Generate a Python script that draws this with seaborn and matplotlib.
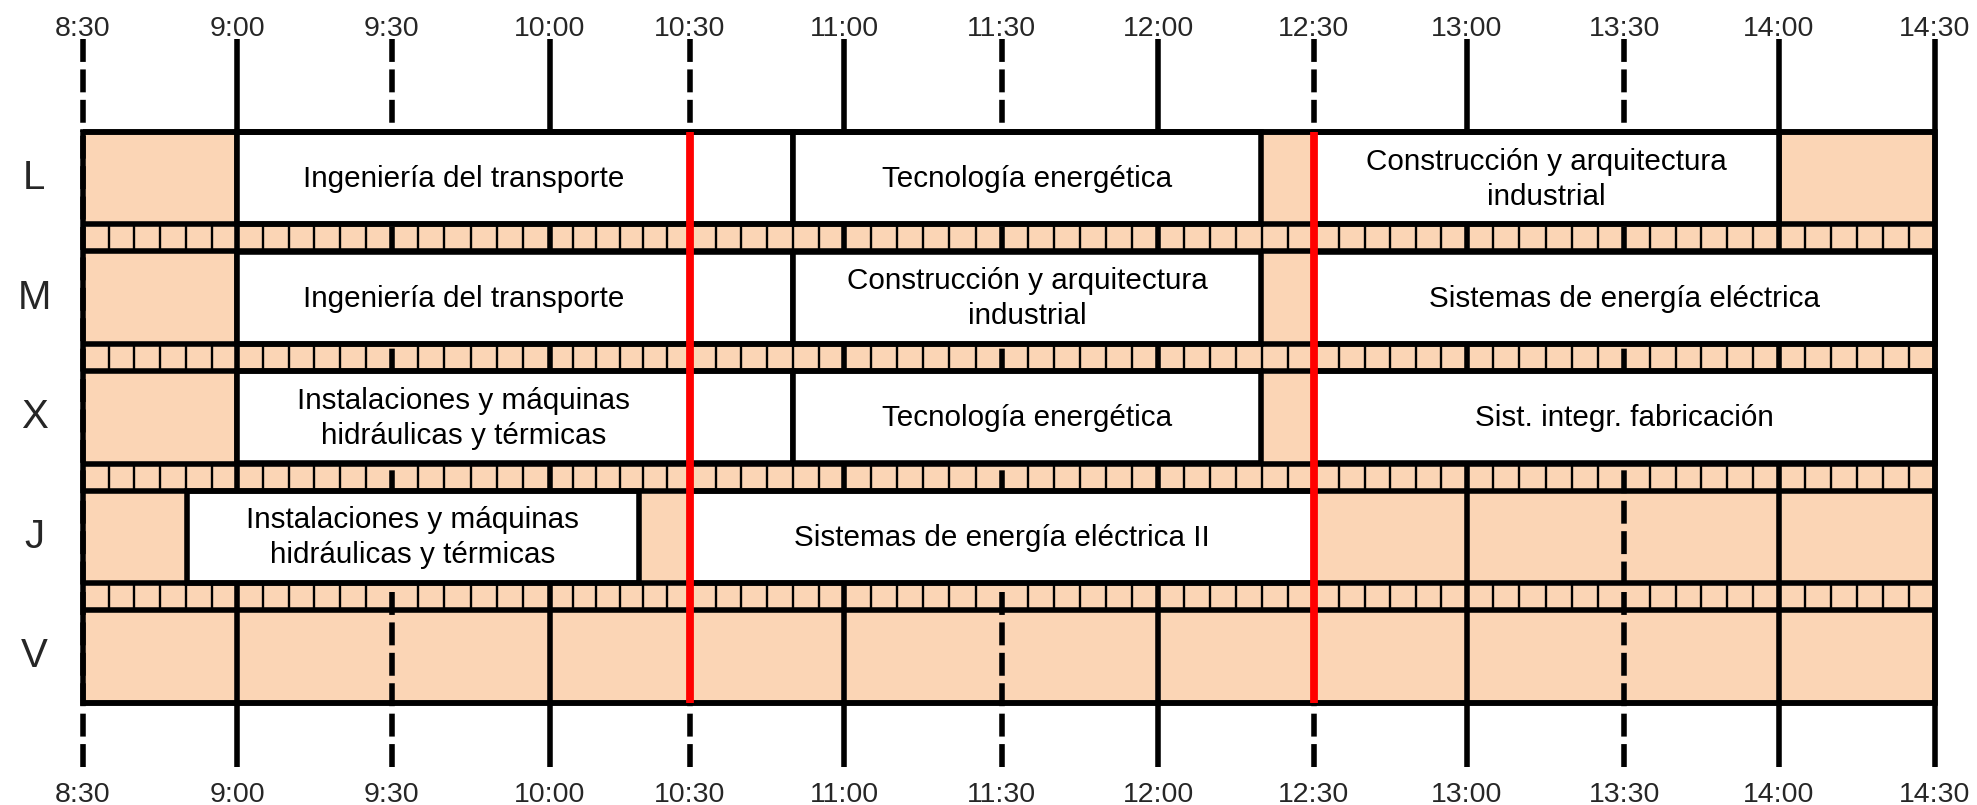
import matplotlib
matplotlib.use("Agg")
import matplotlib.pyplot as plt
import seaborn as sns
from matplotlib.patches import Rectangle

# ---------------- data ----------------
days = ["L", "M", "X", "J", "V"]
tick_labels = ["8:30", "9:00", "9:30", "10:00", "10:30", "11:00", "11:30",
               "12:00", "12:30", "13:00", "13:30", "14:00", "14:30"]
# minutes after 8:30, as drawn in the picture
tick_pos = [0, 30, 60, 90.7, 118, 148, 178.6, 209, 239.2, 269, 299.6, 329.6, 360]
red_marks = ["10:30", "12:30"]

# classes – start/end in minutes after 8:30
class_day = ["L", "L", "L", "M", "M", "M", "X", "X", "X", "J", "J"]
class_start = [30, 138, 239.2, 30, 138, 239.2, 30, 138, 239.2, 20.2, 118]
class_end = [138, 229, 329.6, 138, 229, 360, 138, 229, 360, 108, 239.2]
# horizontal centre of each class label (minutes after 8:30)
class_label_x = [74, 183.5, 284.4, 74, 183.5, 299.6, 74, 183.5, 299.6, 64.1, 178.6]
class_name = [
    "Ingeniería del transporte", "Tecnología energética",
    "Construcción y arquitectura\nindustrial",
    "Ingeniería del transporte", "Construcción y arquitectura\nindustrial",
    "Sistemas de energía eléctrica",
    "Instalaciones y máquinas\nhidráulicas y térmicas", "Tecnología energética",
    "Sist. integr. fabricación",
    "Instalaciones y máquinas\nhidráulicas y térmicas",
    "Sistemas de energía eléctrica II",
]

# ---------------- style ----------------
sns.set_theme(style="white")
plt.rcParams["font.family"] = ["Liberation Sans", "DejaVu Sans"]

PEACH = "#FBD5B5"
LW = 4.0
THIN = 1.7
RED_LW = 5.6

W, H = 1977, 805
fig = plt.figure(figsize=(W / 100, H / 100), dpi=100)
ax = fig.add_axes([0, 0, 1, 1])
px_per_min = (1935 - 83) / 360.0
ax.set_xlim(-83 / px_per_min, 360 + (W - 1935) / px_per_min)
ax.set_ylim(H, 0)
ax.axis("off")

# layout (vertical, in pixel units)
BOX_TOP = 132
ROW_H = 92.5
STRIP_H = 27
row_top = {}
y = BOX_TOP
strips = []
for i, d in enumerate(days):
    row_top[d] = y
    y += ROW_H
    if i < len(days) - 1:
        strips.append((y, y + STRIP_H))
        y += STRIP_H
BOX_BOT = y
TOP_LINE_START = 39
BOT_LINE_END = 767

x0, x1 = tick_pos[0], tick_pos[-1]

# background
ax.add_patch(Rectangle((x0, BOX_TOP), x1 - x0, BOX_BOT - BOX_TOP,
                       facecolor=PEACH, edgecolor="none", zorder=1))

# major vertical lines
dash = (16.5 / LW, 5.4 / LW)
for i, (lab, t) in enumerate(zip(tick_labels, tick_pos)):
    dashed = lab.endswith(":30") and i != len(tick_labels) - 1
    if dashed:
        ax.plot([t, t], [TOP_LINE_START, BOX_TOP], color="black", lw=LW,
                linestyle=(0, dash), zorder=2)
        ax.plot([t, t], [BOT_LINE_END, BOX_TOP], color="black", lw=LW,
                linestyle=(0, dash), zorder=2)
    else:
        ax.plot([t, t], [TOP_LINE_START, BOT_LINE_END], color="black", lw=LW,
                solid_capstyle="butt", zorder=2)

# thin 5-minute lines in the strips
for a, b in zip(tick_pos[:-1], tick_pos[1:]):
    for k in range(1, 6):
        xm = a + (b - a) * k / 6
        for s0, s1 in strips:
            ax.plot([xm, xm], [s0, s1], color="black", lw=THIN,
                    solid_capstyle="butt", zorder=2)

# class boxes
for d, s, e, lx, name in zip(class_day, class_start, class_end,
                             class_label_x, class_name):
    top = row_top[d]
    ax.add_patch(Rectangle((s, top), e - s, ROW_H, facecolor="white",
                           edgecolor="black", lw=LW, zorder=3))
    ax.text(lx, top + ROW_H / 2 + 1, name, ha="center", va="center",
            fontsize=21.3, color="black", linespacing=1.32, zorder=6)

# horizontal row lines
hy = [BOX_TOP]
for d in days:
    hy.append(row_top[d])
    hy.append(row_top[d] + ROW_H)
for s0, s1 in strips:
    hy += [s0, s1]
for yy in sorted(set(hy)):
    ax.plot([x0, x1], [yy, yy], color="black", lw=LW, solid_capstyle="butt",
            zorder=4)

# outer border
ax.add_patch(Rectangle((x0, BOX_TOP), x1 - x0, BOX_BOT - BOX_TOP,
                       facecolor="none", edgecolor="black", lw=LW, zorder=4))

# red lines
for lab in red_marks:
    t = tick_pos[tick_labels.index(lab)]
    ax.plot([t, t], [BOX_TOP, BOX_BOT], color="#FF0000", lw=RED_LW,
            solid_capstyle="butt", zorder=5)

# tick labels top & bottom
for lab, t in zip(tick_labels, tick_pos):
    ax.text(t, 36, lab, ha="center", va="baseline", fontsize=20.5, zorder=6)
    ax.text(t, 802, lab, ha="center", va="baseline", fontsize=20.5, zorder=6)

# day labels
for d in days:
    ax.text(-9.5, row_top[d] + ROW_H / 2, d, ha="center", va="center",
            fontsize=29, zorder=6)

fig.savefig("out.png", dpi=100)
